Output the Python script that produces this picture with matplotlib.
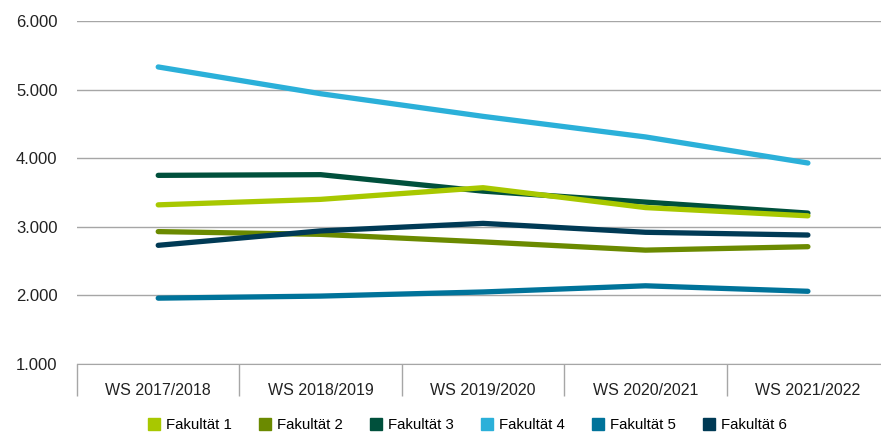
#!/usr/bin/env python3
import matplotlib
matplotlib.use('Agg')
import matplotlib.pyplot as plt
from matplotlib.ticker import FuncFormatter, FixedLocator
from matplotlib.lines import Line2D

plt.rcParams['font.family'] = ['Liberation Sans', 'DejaVu Sans']

semesters = ['WS 2017/2018', 'WS 2018/2019', 'WS 2019/2020', 'WS 2020/2021', 'WS 2021/2022']
fakultaet_1 = [3320, 3400, 3570, 3280, 3160]
fakultaet_2 = [2930, 2890, 2780, 2660, 2710]
fakultaet_3 = [3750, 3760, 3520, 3360, 3200]
fakultaet_4 = [5330, 4940, 4610, 4310, 3930]
fakultaet_5 = [1960, 1990, 2050, 2140, 2060]
fakultaet_6 = [2730, 2940, 3050, 2920, 2880]

names = ['Fakultät 1', 'Fakultät 2', 'Fakultät 3', 'Fakultät 4', 'Fakultät 5', 'Fakultät 6']
colors = ['#A8C800', '#6B8A00', '#00503C', '#2BB0D9', '#00739A', '#003A55']
series = [fakultaet_1, fakultaet_2, fakultaet_3, fakultaet_4, fakultaet_5, fakultaet_6]

fig = plt.figure(figsize=(8.81, 4.36), dpi=100)
ax = fig.add_axes([77 / 881, 72 / 436, 1 - 77 / 881, 343 / 436])

x = list(range(len(semesters)))
# draw order: lines later in the list end up on top
for i in [3, 4, 1, 5, 2, 0]:
    ax.plot(x, series[i], color=colors[i], lw=3.8, solid_capstyle='round',
            solid_joinstyle='round', zorder=3)

ax.set_ylim(1000, 6000)
ax.set_xlim(-0.5, 4.45)
ax.set_yticks([1000, 2000, 3000, 4000, 5000, 6000])
ax.yaxis.set_major_formatter(FuncFormatter(lambda v, p: '{:,.0f}'.format(v).replace(',', '.')))
ax.grid(axis='y', color='#A6A6A6', lw=1)
ax.set_axisbelow(True)

ax.set_xticks(x)
ax.set_xticklabels(semesters)
ax.xaxis.set_minor_locator(FixedLocator([-0.5, 0.5, 1.5, 2.5, 3.5]))
ax.tick_params(axis='x', which='major', length=0, pad=14, labelsize=11.5, colors='#222222')
ax.tick_params(axis='x', which='minor', length=23, width=1, color='#A6A6A6')
ax.tick_params(axis='y', length=0, pad=14, labelsize=12, colors='#222222')

for s in ['top', 'right', 'left']:
    ax.spines[s].set_visible(False)
ax.spines['bottom'].set_color('#A6A6A6')

handles = [Line2D([], [], marker='s', ls='', markersize=9, color=c) for c in colors]
fig.legend(handles, names, loc='center', bbox_to_anchor=(0.529, 0.025), ncol=6,
           frameon=False, fontsize=10.8, handletextpad=0.2, columnspacing=1.6,
           handlelength=1.2)

fig.savefig('out.png', dpi=100)
